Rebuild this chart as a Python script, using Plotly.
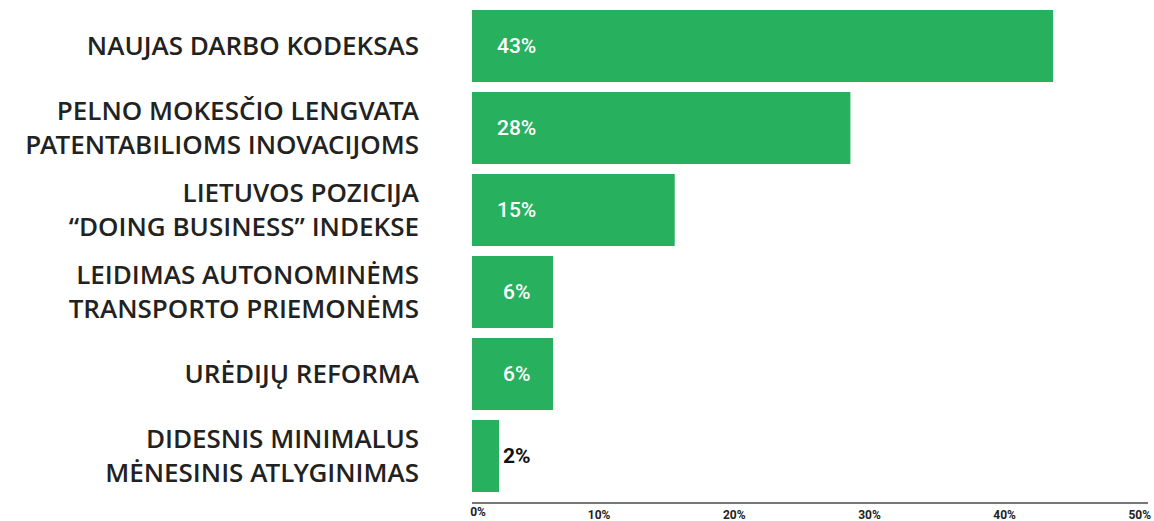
import plotly.graph_objects as go

categories = [
    "NAUJAS DARBO KODEKSAS",
    "PELNO MOKESČIO LENGVATA<br>PATENTABILIOMS INOVACIJOMS",
    "LIETUVOS POZICIJA<br>“DOING BUSINESS” INDEKSE",
    "LEIDIMAS AUTONOMINĖMS<br>TRANSPORTO PRIEMONĖMS",
    "URĖDIJŲ REFORMA",
    "DIDESNIS MINIMALUS<br>MĖNESINIS ATLYGINIMAS",
]
values = [43, 28, 15, 6, 6, 2]
bar_labels = ["43%", "28%", "15%", "6%", "6%", "2%"]
tick_vals = [10, 20, 30, 40, 50]
tick_text = ["10%", "20%", "30%", "40%", "50%"]

GREEN = "#27B05E"
LABEL_X = 3.3
NUMFONT = "Roboto"

fig = go.Figure()
fig.add_trace(go.Bar(
    x=values, y=categories, orientation="h",
    marker=dict(color=GREEN, line=dict(width=0)),
    hoverinfo="skip", showlegend=False,
))
# invisible trace to bind the secondary x axis (used only for the 0% label)
fig.add_trace(go.Scatter(x=[0], y=[categories[0]], xaxis="x2", mode="markers",
                         marker=dict(opacity=0), hoverinfo="skip", showlegend=False))

for cat, v, t in zip(categories, values, bar_labels):
    inside = v > 3
    fig.add_annotation(
        x=LABEL_X, y=cat, xref="x", yref="y", text=t, showarrow=False,
        xanchor="center", yanchor="middle",
        font=dict(family=NUMFONT, size=21, color="white" if inside else "#111111",
                  weight=500 if inside else "bold"),
    )

fig.update_layout(
    template="none",
    width=1154, height=521,
    margin=dict(l=472, r=6, t=5, b=19, autoexpand=False),
    paper_bgcolor="white", plot_bgcolor="white",
    bargap=0.122,
    xaxis=dict(
        range=[0, 50.02], tickvals=tick_vals, ticktext=tick_text, automargin=False,
        showgrid=False, zeroline=False, showline=True, linecolor="#777777", linewidth=2,
        ticks="", ticklabelshift=-8, ticklabelstandoff=1,
        tickfont=dict(family=NUMFONT, size=12, color="#222222", weight="bold"),
        fixedrange=True,
    ),
    xaxis2=dict(
        overlaying="x", matches="x", anchor="y", side="bottom", automargin=False,
        tickvals=[0], ticktext=["0%"], showgrid=False, zeroline=False, showline=False,
        ticks="", ticklabelshift=6, ticklabelstandoff=1,
        tickfont=dict(family=NUMFONT, size=12, color="#222222", weight="bold"),
    ),
    yaxis=dict(
        type="category", categoryorder="array", categoryarray=categories,
        range=[5.56, -0.5], automargin=False,
        showgrid=False, zeroline=False, showline=False, ticks="",
        ticklabelstandoff=52,
        tickfont=dict(family="Open Sans SemiBold, Open Sans", size=26, color="#222222", weight=600),
    ),
)

fig.write_html(
    "out.html",
    config={"displayModeBar": False},
    post_script="document.body.style.margin='0';document.body.style.overflow='hidden';",
)
